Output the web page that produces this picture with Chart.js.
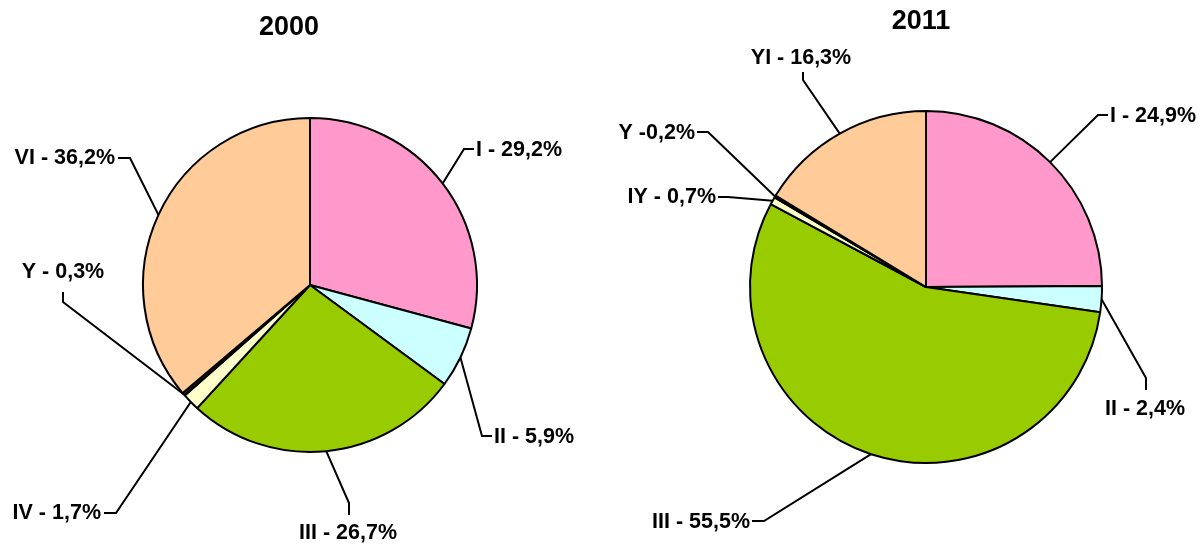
<!DOCTYPE html>
<html>
<head>
<meta charset="utf-8">
<script src="https://cdn.jsdelivr.net/npm/chart.js@4"></script>
<style>
  html, body { margin: 0; padding: 0; background: #fff; }
  #wrap { position: relative; width: 1203px; height: 544px; }
  canvas { position: absolute; left: 0; top: 0; }
</style>
</head>
<body>
<div id="wrap">
  <canvas id="pie2000" width="1203" height="544"></canvas>
  <canvas id="pie2011" width="1203" height="544"></canvas>
</div>
<script>
const categories2000 = ["I", "II", "III", "IV", "Y", "VI"];
const values2000 = [29.2, 5.9, 26.7, 1.7, 0.3, 36.2];
const labels2000 = ["I - 29,2%", "II - 5,9%", "III - 26,7%", "IV - 1,7%", "Y - 0,3%", "VI - 36,2%"];

const categories2011 = ["I", "II", "III", "IY", "Y", "YI"];
const values2011 = [24.9, 2.4, 55.5, 0.7, 0.2, 16.3];
const labels2011 = ["I - 24,9%", "II - 2,4%", "III - 55,5%", "IY - 0,7%", "Y -0,2%", "YI - 16,3%"];

const colors = ["#FF99CC", "#CCFFFF", "#99CC00", "#FFFFCC", "#1a1a1a", "#FFCC99"];
const labelFont = "bold 21.5px 'Liberation Sans', Arial, sans-serif";
const titleFont = "bold 27px 'Liberation Sans', Arial, sans-serif";

// leader line layout: elbow, end of line, text anchor and alignment
const leaders2000 = [
	{ elbow: [464, 149], end: [474, 149], text: [476, 150], align: "left" },
	{ elbow: [482, 436], end: [492, 436], text: [494, 437], align: "left" },
	{ elbow: [349, 503], end: [349, 515], text: [348, 533], align: "center" },
	{ elbow: [116, 513], end: [104, 513], text: [101, 513], align: "right" },
	{ elbow: [63, 302], end: [63, 292], text: [63, 272], align: "center" },
	{ elbow: [130, 158], end: [118, 158], text: [115, 158], align: "right" }
];
const leaders2011 = [
	{ elbow: [1098, 115], end: [1108, 115], text: [1110, 116], align: "left" },
	{ elbow: [1146, 378], end: [1146, 390], text: [1145, 409], align: "center" },
	{ elbow: [764, 521], end: [752, 521], text: [750, 522], align: "right" },
	{ elbow: [728, 197], end: [718, 197], text: [716, 197], align: "right" },
	{ elbow: [708, 132], end: [697, 132], text: [695, 133], align: "right" },
	{ elbow: [803, 80], end: [803, 72], text: [801, 58], align: "center" }
];

const leaderPlugin = {
	id: "leaders",
	afterDatasetsDraw(chart, args, opts) {
		const ctx = chart.ctx;
		const arcs = chart.getDatasetMeta(0).data;
		ctx.save();
		ctx.strokeStyle = "#000";
		ctx.lineWidth = 2;
		ctx.fillStyle = "#000";
		ctx.font = labelFont;
		ctx.textBaseline = "middle";
		arcs.forEach((arc, i) => {
			const p = arc.getProps(["x", "y", "startAngle", "endAngle", "outerRadius"], true);
			const mid = (p.startAngle + p.endAngle) / 2;
			const sx = p.x + Math.cos(mid) * p.outerRadius;
			const sy = p.y + Math.sin(mid) * p.outerRadius;
			const l = opts.leaders[i];
			ctx.beginPath();
			ctx.moveTo(sx, sy);
			ctx.lineTo(l.elbow[0], l.elbow[1]);
			ctx.lineTo(l.end[0], l.end[1]);
			ctx.stroke();
			ctx.textAlign = l.align;
			ctx.fillText(opts.labels[i], l.text[0], l.text[1]);
		});
		ctx.font = titleFont;
		ctx.textAlign = "center";
		ctx.fillText(opts.title, opts.titlePos[0], opts.titlePos[1]);
		ctx.restore();
	}
};

function makePie(id, categories, values, labels, leaders, title, titlePos, padding) {
	new Chart(document.getElementById(id), {
		type: "pie",
		data: {
			labels: categories,
			datasets: [
				{
					data: values,
					backgroundColor: colors,
					borderColor: "#000",
					borderWidth: 2
				}
			]
		},
		options: {
			responsive: false,
			animation: false,
			layout: { padding },
			plugins: {
				legend: { display: false },
				tooltip: { enabled: false },
				leaders: { leaders, labels, title, titlePos }
			}
		},
		plugins: [leaderPlugin]
	});
}

makePie("pie2000", categories2000, values2000, labels2000, leaders2000, "2000", [289, 28],
	{ left: 142, top: 117, right: 725, bottom: 91 });
makePie("pie2011", categories2011, values2011, labels2011, leaders2011, "2011", [921, 22],
	{ left: 749, top: 110, right: 100, bottom: 80 });
</script>
</body>
</html>
